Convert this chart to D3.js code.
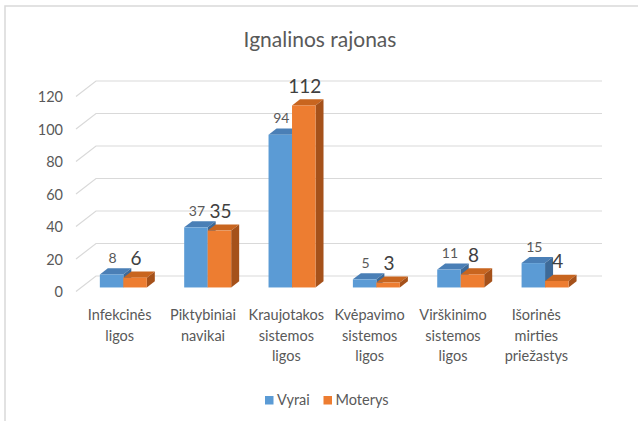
<!DOCTYPE html>
<html><head><meta charset="utf-8">
<script src="https://cdn.jsdelivr.net/npm/d3@7"></script>
<style>
html,body{margin:0;padding:0;background:#fff;}
svg{display:block;font-family:Lato, "Open Sans", sans-serif;}
</style></head>
<body>
<svg id="c" width="638" height="421"></svg>
<script>
const title = "Ignalinos rajonas";
const categories = ["Infekcinės ligos","Piktybiniai navikai","Kraujotakos sistemos ligos","Kvėpavimo sistemos ligos","Virškinimo sistemos ligos","Išorinės mirties priežastys"];
const categoryLines = [["Infekcinės","ligos"],["Piktybiniai","navikai"],["Kraujotakos","sistemos","ligos"],["Kvėpavimo","sistemos","ligos"],["Virškinimo","sistemos","ligos"],["Išorinės","mirties","priežastys"]];
const seriesNames = ["Vyrai","Moterys"];
const vyrai = [8,37,94,5,11,15];
const moterys = [6,35,112,3,8,4];
const yTicks = [0,20,40,60,80,100,120];

const colors = {
  Vyrai:{front:"#5b9bd5", top:"#4a7fb6", side:"#3d6a98", label:"#595959", size:14},
  Moterys:{front:"#ed7d31", top:"#c8651f", side:"#a5511a", label:"#404040", size:19}
};

const svg = d3.select("#c");
// frame
svg.append("rect").attr("x",5).attr("y",6).attr("width",640).attr("height",420)
  .attr("fill","#fff").attr("stroke","#d9d9d9").attr("stroke-width",1.5);

svg.append("text").attr("x",320).attr("y",47).attr("text-anchor","middle")
  .attr("font-size",21).attr("fill","#595959").text(title);

// 3D geometry
const floorY = 291.5;          // front floor edge at value 0
const depthDX = 20, depthDY = -15.5;
const floorLeft = 76, floorRight = 582;
const y = d3.scaleLinear().domain([0,120]).range([0,195]);
const x = d3.scaleBand().domain(categories).range([floorLeft,floorRight]).paddingInner(0.443).paddingOuter(0.221);
const xs = d3.scaleBand().domain(seriesNames).range([0,x.bandwidth()]);
const labelX = d3.scaleBand().domain(categories).range([78,578]);

// gridlines (side wall slant + back wall)
const grid = svg.append("g");
yTicks.forEach(t=>{
  const fy = floorY - y(t);
  grid.append("path")
    .attr("d",`M${floorLeft},${fy}L${floorLeft+depthDX},${fy+depthDY}L${floorRight+depthDX},${fy+depthDY}`)
    .attr("fill","none").attr("stroke","#d9d9d9").attr("stroke-width",1.2);
  grid.append("text").attr("x",63).attr("y",fy+2).attr("text-anchor","end")
    .attr("dominant-baseline","middle").attr("font-size",14.5).attr("fill","#595959").text(t);
});

// bars
const fFront = 0.26, fBack = 0.66;
const bx = fFront*depthDX, by = fFront*depthDY;
const ddx = (fBack-fFront)*depthDX, ddy = (fBack-fFront)*depthDY;
const data = categories.map((c,i)=>({c, values:[{s:"Vyrai",v:vyrai[i]},{s:"Moterys",v:moterys[i]}]}));
const bars = svg.append("g");
data.forEach(d=>{
  d.values.forEach(e=>{
    const col = colors[e.s];
    const x0 = x(d.c) + xs(e.s) + bx, x1 = x0 + xs.bandwidth();
    const yb = floorY + by, yt = yb - y(e.v);
    const g = bars.append("g");
    g.append("path").attr("d",`M${x0},${yt}L${x1},${yt}L${x1+ddx},${yt+ddy}L${x0+ddx},${yt+ddy}Z`).attr("fill",col.top);
    g.append("path").attr("d",`M${x1},${yt}L${x1+ddx},${yt+ddy}L${x1+ddx},${yb+ddy}L${x1},${yb}Z`).attr("fill",col.side);
    g.append("rect").attr("x",x0).attr("y",yt).attr("width",x1-x0).attr("height",yb-yt).attr("fill",col.front);
  });
});
// data labels
data.forEach(d=>{
  d.values.forEach(e=>{
    const col = colors[e.s];
    const x0 = x(d.c) + xs(e.s) + bx;
    const yt = floorY + by - y(e.v);
    svg.append("text").attr("x",x0 + xs.bandwidth()/2 + 1)
      .attr("y", yt - (e.s==="Vyrai"?11.5:12.5))
      .attr("text-anchor","middle").attr("font-size",col.size).attr("fill",col.label).text(e.v);
  });
});

// category labels
categories.forEach((c,i)=>{
  const t = svg.append("text").attr("text-anchor","middle").attr("font-size",14.5).attr("fill","#595959");
  categoryLines[i].forEach((ln,j)=>{
    t.append("tspan").attr("x",labelX(c)+labelX.bandwidth()/2).attr("y",320+j*20.5).text(ln);
  });
});

// legend
const legend = [{s:"Vyrai",x:265},{s:"Moterys",x:323.5}];
legend.forEach(l=>{
  svg.append("rect").attr("x",l.x).attr("y",396).attr("width",8.5).attr("height",8.5).attr("fill",colors[l.s].front);
  svg.append("text").attr("x",l.x+12).attr("y",405).attr("font-size",14.5).attr("fill","#595959").text(l.s);
});
</script>
</body></html>
